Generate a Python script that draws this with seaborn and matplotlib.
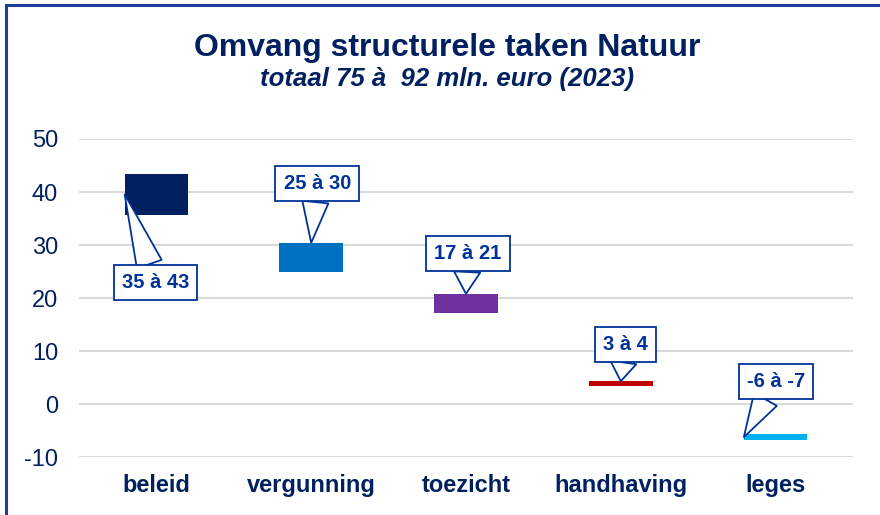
import matplotlib
matplotlib.use("Agg")
import pandas as pd
import seaborn as sns
import matplotlib.pyplot as plt
from matplotlib.patches import Rectangle

# --------------------------------------------------
# Data
# --------------------------------------------------
categories = ["beleid", "vergunning", "toezicht", "handhaving", "leges"]
low = [35.7, 25.0, 17.2, 3.4, -6.8]
high = [43.4, 30.4, 20.8, 4.3, -5.7]
labels = ["35 à 43", "25 à 30", "17 à 21", "3 à 4", "-6 à -7"]
colors = ["#002060", "#0070C0", "#7030A0", "#C00000", "#00B0F0"]

title = "Omvang structurele taken Natuur"
subtitle = "totaal 75 à  92 mln. euro (2023)"

navy = "#002060"
callout_blue = "#003399"

sns.set_theme(style="white", rc={"axes.spines.right": False, "axes.spines.top": False})
plt.rcParams["font.family"] = ["Liberation Sans", "DejaVu Sans"]
plt.rcParams["axes.unicode_minus"] = False

df = pd.DataFrame({"cat": categories, "span": [h - l for h, l in zip(high, low)], "low": low})

fig = plt.figure(figsize=(8.8, 5.15), dpi=100)
ax = fig.add_axes([0.0898, 0.1126, 0.8795, 0.6175])

sns.barplot(data=df, x="cat", y="span", hue="cat", palette=colors, width=0.41,
            legend=False, ax=ax, saturation=1, zorder=3)

# lift each bar so it floats between low and high
for patch, lo in zip(ax.patches, low):
    patch.set_y(lo)
    patch.set_linewidth(0)

ax.set_ylim(-10, 50)
ax.set_yticks(range(-10, 51, 10))
ax.yaxis.grid(True, color="#D9D9D9", lw=1.5, zorder=0)
ax.set_axisbelow(True)
for s in ax.spines.values():
    s.set_visible(False)
ax.set_xlabel("")
ax.set_ylabel("")
ax.tick_params(axis="y", length=0, pad=15, labelsize=17, labelcolor=navy)
ax.tick_params(axis="x", length=0, pad=12, labelsize=17, labelcolor=navy)
for t in ax.get_xticklabels():
    t.set_fontweight("bold")

# callouts: (anchor on bar, offset of box in pixels)
anchors = ["left", "top", "top", "top", "left"]
offsets = [(31, -88), (6, 59), (2, 40), (5, 37), (32, 56)]
for patch, lab, anc, off in zip(ax.patches, labels, anchors, offsets):
    x0, w = patch.get_x(), patch.get_width()
    y0, h = patch.get_y(), patch.get_height()
    if anc == "left":
        xy = (x0, y0 + h / 2)
    else:
        xy = (x0 + w / 2, y0 + h)
    ax.annotate(lab, xy=xy, xytext=off, textcoords="offset pixels",
                ha="center", va="center", fontsize=14.5, fontweight="bold",
                color=callout_blue, zorder=5,
                bbox=dict(boxstyle="square,pad=0.4", fc="white", ec=callout_blue, lw=1.3),
                arrowprops=dict(arrowstyle="wedge,tail_width=1.3,shrink_factor=0.5",
                                fc="white", ec=callout_blue, lw=1.3,
                                shrinkA=0, shrinkB=0))

fig.text(0.508, 0.907, title, ha="center", va="center", fontsize=23,
         fontweight="bold", color=navy)
fig.text(0.508, 0.846, subtitle, ha="center", va="center", fontsize=18.5,
         fontweight="bold", style="italic", color=navy)

# chart frame (only top and left edges visible in the crop)
fig.patches.append(Rectangle((0.0068, -0.2), 1.5, 1.19, transform=fig.transFigure,
                             fill=False, ec="#1F3F99", lw=2.2))

fig.savefig("out.png", dpi=100)
